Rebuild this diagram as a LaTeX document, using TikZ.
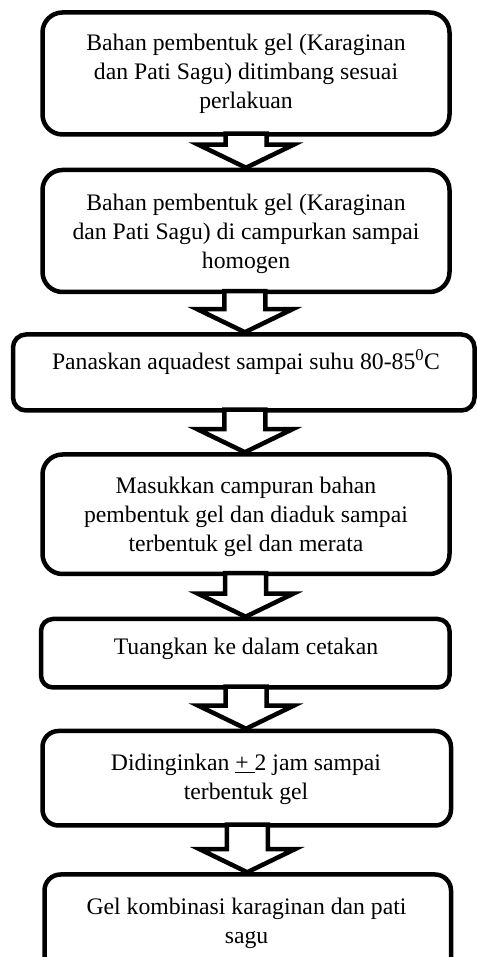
\documentclass[tikz,border=0pt]{standalone}
\usepackage{fontspec}
\setmainfont{Liberation Serif}
\usetikzlibrary{calc}

\newcommand{\flowarrow}[2]{%
  \draw[blockarrow] let \p1=($(#1.south)!0.5!(#2.north)$), \p2=(#1.south), \p3=(#2.north) in
    (\x1-20.5,\y2+3) -- (\x1-20.5,\y3+23) -- (\x1-47.5,\y3+23) -- (\x1,\y3)
    -- (\x1+47.5,\y3+23) -- (\x1+20.5,\y3+23) -- (\x1+20.5,\y2+3) -- cycle;}

\begin{document}
\begin{tikzpicture}[x=1pt,y=1pt,
    stepbox/.style={draw,line width=4.5pt,inner sep=0pt,fill=white},
    steptext/.style={anchor=base,align=center,inner sep=0pt,
      font=\fontsize{23.7}{29}\selectfont},
    blockarrow/.style={line width=4.5pt,fill=white,line join=miter}]
    \useasboundingbox (0,0) rectangle (476,957);

    \node[stepbox,minimum width=407,minimum height=122,rounded corners=20] (b1) at (246,883.5) {};
    \node[stepbox,minimum width=407,minimum height=122,rounded corners=20] (b2) at (246,726) {};
    \node[stepbox,minimum width=461.5,minimum height=76,rounded corners=13] (b3) at (243.75,584.5) {};
    \node[stepbox,minimum width=407,minimum height=119.5,rounded corners=20] (b4) at (246,442.75) {};
    \node[stepbox,minimum width=408.5,minimum height=68.5,rounded corners=12] (b5) at (245.25,303.75) {};
    \node[stepbox,minimum width=408.5,minimum height=94.5,rounded corners=16] (b6) at (246.75,178.75) {};
    \node[stepbox,minimum width=406.5,minimum height=102.5,rounded corners=16] (b7) at (247.75,31.25) {};

    % base = baseline of the last line
    \node[steptext] (t1) at (246,848.7) {Bahan pembentuk gel (Karaginan\\dan Pati Sagu) ditimbang sesuai\\perlakuan};
    \node[steptext] (t2) at (246,688) {Bahan pembentuk gel (Karaginan\\dan Pati Sagu) di campurkan sampai\\homogen};
    \node[steptext] (t3) at (246,587) {Panaskan aquadest sampai suhu 80-85\textsuperscript{0}C};
    \node[steptext] (t4) at (246,405.3) {Masukkan campuran bahan\\pembentuk gel dan diaduk sampai\\terbentuk gel dan merata};
    \node[steptext] (t5) at (246,302) {Tuangkan ke dalam cetakan};
    \node[steptext] (t6) at (246,157) {Didinginkan \underline{+ }2 jam sampai\\terbentuk gel};
    \node[steptext] (t7) at (246.5,13.7) {Gel kombinasi karaginan dan pati\\sagu};

    \flowarrow{b1}{b2}
    \flowarrow{b2}{b3}
    \flowarrow{b3}{b4}
    \flowarrow{b4}{b5}
    \flowarrow{b5}{b6}
    \flowarrow{b6}{b7}
\end{tikzpicture}
\end{document}
